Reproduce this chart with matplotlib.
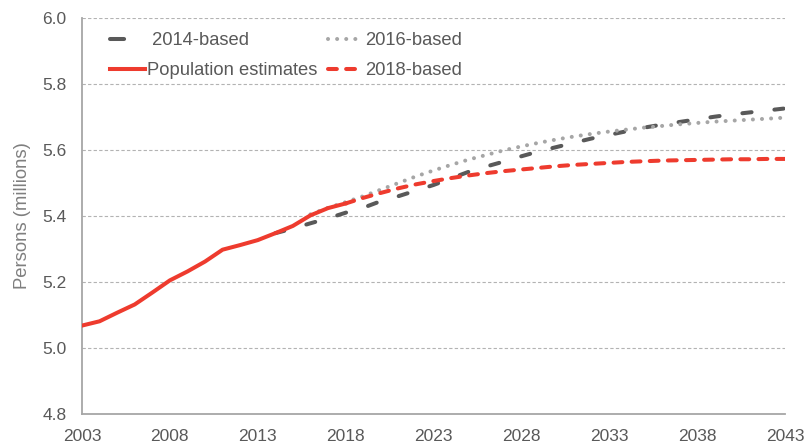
import matplotlib.pyplot as plt
import numpy as np

plt.rcParams['font.family'] = ['Liberation Sans', 'DejaVu Sans']

# population estimates (millions)
est_years = np.arange(2003, 2019)
est_vals = [5.068, 5.081, 5.107, 5.132, 5.168, 5.205, 5.232, 5.262, 5.298, 5.312,
            5.327, 5.348, 5.370, 5.402, 5.424, 5.438]

# 2014-based projection
p14_years = np.arange(2014, 2044)
p14_vals = [5.348, 5.362, 5.378, 5.393, 5.410, 5.425, 5.445, 5.460, 5.477, 5.494,
            5.514, 5.534, 5.550, 5.565, 5.581, 5.596, 5.609, 5.622, 5.635, 5.646,
            5.657, 5.668, 5.677, 5.685, 5.693, 5.701, 5.708, 5.714, 5.720, 5.726]

# 2016-based projection
p16_years = np.arange(2016, 2044)
p16_vals = [5.405, 5.425, 5.442, 5.460, 5.480, 5.500, 5.520, 5.538, 5.555, 5.571,
            5.585, 5.599, 5.611, 5.622, 5.632, 5.641, 5.649, 5.656, 5.662, 5.668,
            5.673, 5.678, 5.682, 5.686, 5.689, 5.692, 5.695, 5.698]

# 2018-based projection
p18_years = np.arange(2018, 2044)
p18_vals = [5.438, 5.455, 5.470, 5.484, 5.496, 5.506, 5.515, 5.523, 5.530, 5.536,
            5.541, 5.546, 5.551, 5.555, 5.558, 5.561, 5.564, 5.566, 5.568, 5.569,
            5.570, 5.571, 5.572, 5.572, 5.573, 5.573]

xticks = np.arange(2003, 2044, 5)
yticks = [4.8, 5.0, 5.2, 5.4, 5.6, 5.8, 6.0]

red = '#ee3b2e'
dark = '#595959'
light = '#a6a6a6'
txt = '#595959'

fig = plt.figure(figsize=(8.07, 4.46), dpi=100)
ax = fig.add_axes([0.1016, 0.0717, 0.8711, 0.8879])

l14, = ax.plot(p14_years, p14_vals, color=dark, lw=2.9, dashes=(2.3, 5.7),
               dash_capstyle='round', label=' 2014-based', zorder=2)
l16, = ax.plot(p16_years, p16_vals, color=light, lw=2.9, dashes=(0.01, 2.25),
               dash_capstyle='round', label='2016-based', zorder=3)
l18, = ax.plot(p18_years, p18_vals, color=red, lw=2.9, dashes=(2.2, 2.3),
               dash_capstyle='round', label='2018-based', zorder=4)
lest, = ax.plot(est_years, est_vals, color=red, lw=2.9, label='Population estimates',
                zorder=5)

ax.set_xlim(2003, 2043)
ax.set_ylim(4.8, 6.0)
ax.set_xticks(xticks)
ax.set_yticks(yticks)
ax.set_yticklabels([f'{v:.1f}' for v in yticks])
ax.tick_params(length=0, labelsize=12.5, colors=txt)
ax.tick_params(axis='y', pad=11)
ax.tick_params(axis='x', pad=11)
for s in ['top', 'right']:
    ax.spines[s].set_visible(False)
for s in ['left', 'bottom']:
    ax.spines[s].set_color('#a6a6a6')
    ax.spines[s].set_linewidth(1.3)
ax.grid(axis='y', linestyle=(0, (3, 2)), color='#b3b3b3', lw=0.8)
ax.set_axisbelow(True)
ax.set_ylabel('Persons (millions)', fontsize=13.3, color='#7f7f7f', labelpad=8)

leg = fig.legend(handles=[l14, lest, l16, l18], ncol=2, frameon=False, loc='upper left',
                 fontsize=13.2, handlelength=1.9, handletextpad=0.1, columnspacing=0.6,
                 labelspacing=0.72, borderpad=0, borderaxespad=0,
                 bbox_to_anchor=(110 / 807, 1 - 32 / 446))
for t in leg.get_texts():
    t.set_color(txt)
# 2014-based key shows a single dash
leg.legend_handles[0].set_dashes((3.5, 10))

fig.savefig('out.png', dpi=100)
